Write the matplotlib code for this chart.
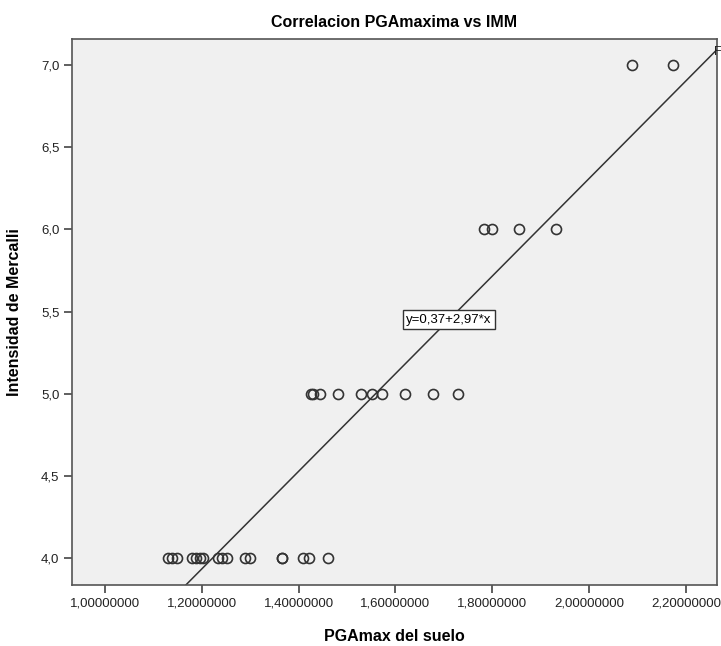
import matplotlib
matplotlib.use("Agg")
import matplotlib.pyplot as plt
import numpy as np

plt.rcParams['font.family'] = ['Liberation Sans', 'DejaVu Sans']

# Data
x_40 = [1.131, 1.139, 1.148, 1.179, 1.189, 1.196, 1.203, 1.233, 1.241, 1.251,
        1.289, 1.300, 1.365, 1.366, 1.410, 1.421, 1.461]
x_50 = [1.425, 1.430, 1.445, 1.482, 1.529, 1.551, 1.572, 1.620, 1.677, 1.729]
x_60 = [1.783, 1.800, 1.855, 1.931]
x_70 = [2.089, 2.174]
imm_levels = [4.0, 5.0, 6.0, 7.0]
intercept = 0.37
slope = 2.97
fit_label = "y=0,37+2,97*x"

xticks = [1.0, 1.2, 1.4, 1.6, 1.8, 2.0, 2.2]
xticklabels = ["1,00000000", "1,20000000", "1,40000000", "1,60000000",
               "1,80000000", "2,00000000", "2,20000000"]
yticks = [4.0, 4.5, 5.0, 5.5, 6.0, 6.5, 7.0]
yticklabels = ["4,0", "4,5", "5,0", "5,5", "6,0", "6,5", "7,0"]

xs = np.array(x_40 + x_50 + x_60 + x_70)
ys = np.array([imm_levels[0]] * len(x_40) + [imm_levels[1]] * len(x_50) +
              [imm_levels[2]] * len(x_60) + [imm_levels[3]] * len(x_70))

fig = plt.figure(figsize=(7.21, 6.46), dpi=100)
ax = fig.add_axes([0.0999, 0.0944, 0.8946, 0.8452])
ax.set_facecolor('#f0f0f0')

xmin, xmax = 0.932, 2.264
ymin, ymax = 3.836, 7.158

ax.plot(xs, ys, linestyle='none', marker='o', markersize=7.2,
        markerfacecolor='none', markeredgecolor='#333333', markeredgewidth=1.2,
        zorder=3)

lx = np.array([xmin, xmax])
ax.plot(lx, intercept + slope * lx, color='#333333', linewidth=1.1, zorder=2)

ax.set_xlim(xmin, xmax)
ax.set_ylim(ymin, ymax)
ax.set_xticks(xticks)
ax.set_xticklabels(xticklabels, fontsize=9.5)
ax.set_yticks(yticks)
ax.set_yticklabels(yticklabels, fontsize=9.5)
ax.tick_params(direction='out', length=6, width=1.2, color='#444444',
               labelcolor='#222222', pad=3)
for s in ax.spines.values():
    s.set_color('#555555')
    s.set_linewidth(1.2)

ax.set_title("Correlacion PGAmaxima vs IMM", fontsize=11.5, fontweight='bold', pad=9)
ax.set_xlabel("PGAmax del suelo", fontsize=11.5, fontweight='bold', labelpad=14)
ax.set_ylabel("Intensidad de Mercalli", fontsize=11.5, fontweight='bold', labelpad=14)

yl = 5.45
xl = (yl - intercept) / slope
ax.text(xl, yl, fit_label, fontsize=9.5, ha='center', va='center', zorder=4,
        bbox=dict(boxstyle='square,pad=0.25', facecolor='white',
                  edgecolor='#333333', linewidth=1.0))

fig.text(0.9905, 0.92, "F", fontsize=9, ha='left', va='center', color='#222222')

fig.savefig("out.png", dpi=100)
